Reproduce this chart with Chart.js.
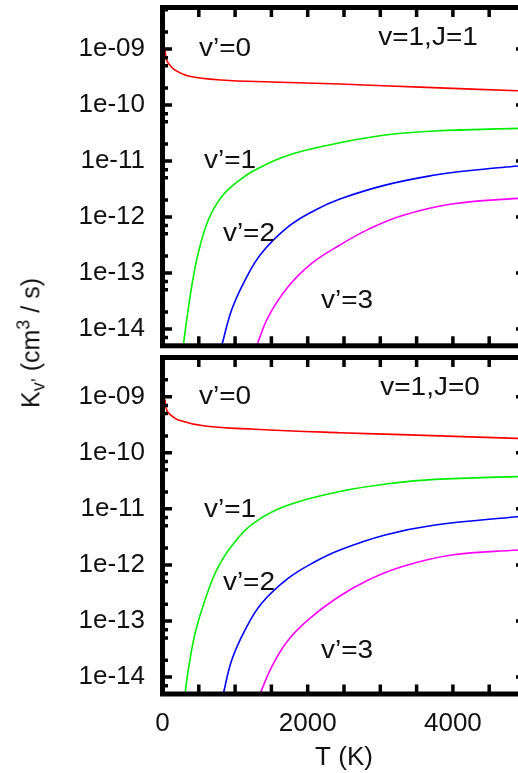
<!DOCTYPE html>
<html>
<head>
<meta charset="utf-8">
<script src="https://cdn.jsdelivr.net/npm/chart.js@4/dist/chart.umd.min.js"></script>
<style>
html,body{margin:0;padding:0;overflow:hidden;background:#fff;width:518px;height:773px;}
#wrap{position:relative;width:518px;height:773px;overflow:hidden;}
canvas{position:absolute;left:0;}
#c1{top:0;}
#c2{top:350px;}
#ytitle{position:absolute;left:31px;top:343px;font-family:'Liberation Sans',Arial,sans-serif;font-size:25px;color:#111;white-space:nowrap;transform:translate(-50%,-50%) rotate(-90deg);line-height:1;}
#ytitle sub{font-size:0.72em;vertical-align:-0.3em;}
#ytitle sup{font-size:0.72em;vertical-align:0.55em;}
</style>
</head>
<body>
<div id="wrap">
<canvas id="c1" width="540" height="352"></canvas>
<canvas id="c2" width="540" height="423"></canvas>
<div id="ytitle">K<sub>v’</sub> (cm<sup>3</sup> / s)</div>
</div>
<script>
// ---------- tick labels / categories ----------
const xTickValues = [0, 2000, 4000];
const xTickLabels = ['0', '2000', '4000'];
const yTickValues = [1e-14, 1e-13, 1e-12, 1e-11, 1e-10, 1e-9];
const yTickLabels = ['1e-14', '1e-13', '1e-12', '1e-11', '1e-10', '1e-09'];
const xTitle = 'T (K)';
const seriesLabels = ['v’=0', 'v’=1', 'v’=2', 'v’=3'];
const seriesColors = ['#ff0000', '#00ee00', '#0000ff', '#ff00ff'];
const panelTitles = ['v=1,J=1', 'v=1,J=0'];

// ---------- panel 1 (v=1, J=1) ----------
const p1_v0_T = [34, 58, 103, 172, 355, 815, 1504, 2444, 3639, 4892, 5000];
const p1_v0_K = [9.8e-10, 6.3e-10, 5.1e-10, 4.2e-10, 3.3e-10, 2.79e-10, 2.57e-10, 2.36e-10, 2.06e-10, 1.79e-10, 1.77e-10];
const p1_v1_T = [286, 333, 402, 493, 631, 815, 1067, 1274, 1733, 2444, 3067, 3754, 4892, 5000];
const p1_v1_K = [5e-15, 1.44e-14, 5.7e-14, 2.27e-13, 8.8e-13, 2.3e-12, 4.6e-12, 6.9e-12, 1.27e-11, 2.11e-11, 2.9e-11, 3.42e-11, 3.82e-11, 3.84e-11];
const p1_v2_T = [815, 953, 1136, 1366, 1733, 2100, 2444, 3067, 3754, 4208, 4892, 5000];
const p1_v2_K = [5e-15, 2.2e-14, 7.4e-14, 2.26e-13, 6.7e-13, 1.32e-12, 2.09e-12, 3.7e-12, 5.6e-12, 6.7e-12, 8.1e-12, 8.3e-12];
const p1_v3_T = [1297, 1457, 1733, 2055, 2444, 2835, 3295, 3983, 4892, 5000];
const p1_v3_K = [5e-15, 1.65e-14, 5.7e-14, 1.48e-13, 3.16e-13, 6.0e-13, 1.05e-12, 1.7e-12, 2.15e-12, 2.17e-12];
// label anchor points (data coords)
const p1_labelT = [861, 930, 1191, 2541, 3657];
const p1_labelK = [1.0e-9, 1.0e-11, 4.95e-13, 3.16e-14, 1.57e-9];

// ---------- panel 2 (v=1, J=0) ----------
const p2_v0_T = [34, 58, 110, 218, 585, 1274, 2444, 3179, 4879, 5000];
const p2_v0_K = [9.0e-10, 5.8e-10, 4.75e-10, 3.85e-10, 3.0e-10, 2.63e-10, 2.28e-10, 2.13e-10, 1.81e-10, 1.79e-10];
const p2_v1_T = [310, 355, 448, 585, 769, 999, 1290, 1733, 2444, 3179, 3754, 4879, 5000];
const p2_v1_K = [5e-15, 1.34e-14, 6.0e-14, 2.37e-13, 9.3e-13, 2.6e-12, 6.0e-12, 1.17e-11, 2.04e-11, 2.88e-11, 3.35e-11, 3.76e-11, 3.78e-11];
const p2_v2_T = [837, 953, 1136, 1366, 1733, 2100, 2444, 3067, 3754, 4879, 5000];
const p2_v2_K = [5e-15, 2.0e-14, 6.9e-14, 2.07e-13, 5.8e-13, 1.14e-12, 1.85e-12, 3.42e-12, 5.15e-12, 7.24e-12, 7.4e-12];
const p2_v3_T = [1343, 1504, 1733, 2055, 2444, 2835, 3295, 3983, 4892, 5000];
const p2_v3_K = [5e-15, 1.53e-14, 4.6e-14, 1.19e-13, 2.8e-13, 5.4e-13, 9.3e-13, 1.5e-12, 1.85e-12, 1.88e-12];
const p2_labelT = [861, 930, 1191, 2541, 3685];
const p2_labelK = [1.0e-9, 9.5e-12, 4.8e-13, 2.95e-14, 1.43e-9];

// ---------- helpers ----------
const FONT = "'Liberation Sans', Arial, sans-serif";
function zip(T, K) { return T.map((t, i) => ({ x: t, y: K[i] })); }
function makeSets(list) {
  return list.map((pair, i) => ({
    label: seriesLabels[i],
    data: zip(pair[0], pair[1]),
    borderColor: seriesColors[i],
    borderWidth: 1.6,
    pointRadius: 0,
    fill: false,
    tension: 0.4
  }));
}

const framePlugin = {
  id: 'frame',
  afterDatasetsDraw(chart, args, opts) {
    const { ctx, chartArea: a } = chart;
    const x = chart.scales.x, y = chart.scales.y;
    ctx.save();
    ctx.strokeStyle = '#000';
    ctx.lineWidth = 5;
    ctx.strokeRect(a.left, a.top, a.right - a.left, a.bottom - a.top);
    ctx.lineWidth = 3.5;
    ctx.beginPath();
    for (let t = 500; t < 5000; t += 500) {
      const px = x.getPixelForValue(t);
      ctx.moveTo(px, a.top); ctx.lineTo(px, a.top + 9.5);
      ctx.moveTo(px, a.bottom); ctx.lineTo(px, a.bottom - 9.5);
    }
    for (let d = -15; d <= -9; d++) {
      for (const m of [1, 2, 5, 7]) {
        const v = m * Math.pow(10, d);
        if (v <= y.min || v >= y.max) continue;
        const py = y.getPixelForValue(v);
        const len = m === 1 ? 9.5 : 5.5;
        ctx.moveTo(a.left, py); ctx.lineTo(a.left + len, py);
        ctx.moveTo(a.right, py); ctx.lineTo(a.right - len, py);
      }
    }
    ctx.stroke();
    // text labels
    ctx.fillStyle = '#111';
    ctx.font = '25px ' + FONT;
    ctx.textAlign = 'center';
    ctx.textBaseline = 'middle';
    const texts = opts.texts || [];
    texts.forEach(tx => {
      const px = x.getPixelForValue(tx.t);
      const py = y.getPixelForValue(tx.k);
      ctx.save();
      ctx.translate(px, py);
      ctx.scale(1.12, 1);
      ctx.fillText(tx.s, 0, 0);
      ctx.restore();
    });
    ctx.restore();
  }
};

function labelTexts(T, K, title) {
  const s = seriesLabels.concat([title]);
  return s.map((str, i) => ({ s: str, t: T[i], k: K[i] }));
}

function yScale(max) {
  return {
    type: 'logarithmic', min: 5e-15, max: max,
    grid: { display: false, drawTicks: false }, border: { display: false },
    afterFit: s => { s.width = 162.5; s.paddingTop = 0; s.paddingBottom = 0; },
    afterBuildTicks: s => { s.ticks = yTickValues.map(v => ({ value: v })); },
    ticks: {
      font: { family: FONT, size: 26 }, color: '#111', padding: 17.5, autoSkip: false,
      callback: (v, i) => yTickLabels[i]
    }
  };
}

new Chart(document.getElementById('c1'), {
  type: 'line',
  data: { datasets: makeSets([[p1_v0_T, p1_v0_K], [p1_v1_T, p1_v1_K], [p1_v2_T, p1_v2_K], [p1_v3_T, p1_v3_K]]) },
  options: {
    responsive: false, animation: false, devicePixelRatio: 1,
    layout: { padding: { left: 0, top: 7.5, right: 14.5, bottom: 6.2 } },
    plugins: { legend: { display: false }, tooltip: { enabled: false },
      frame: { texts: labelTexts(p1_labelT, p1_labelK, panelTitles[0]) } },
    scales: {
      x: { type: 'linear', min: 0, max: 5000, display: false },
      y: yScale(5.5e-9)
    }
  },
  plugins: [framePlugin]
});

new Chart(document.getElementById('c2'), {
  type: 'line',
  data: { datasets: makeSets([[p2_v0_T, p2_v0_K], [p2_v1_T, p2_v1_K], [p2_v2_T, p2_v2_K], [p2_v3_T, p2_v3_K]]) },
  options: {
    responsive: false, animation: false, devicePixelRatio: 1,
    layout: { padding: { left: 0, top: 7.5, right: 14.5, bottom: 0 } },
    plugins: { legend: { display: false }, tooltip: { enabled: false },
      frame: { texts: labelTexts(p2_labelT, p2_labelK, panelTitles[1]) } },
    scales: {
      x: {
        type: 'linear', min: 0, max: 5000,
        grid: { display: false, drawTicks: false }, border: { display: false },
        afterFit: s => { s.height = 79; s.paddingLeft = 0; s.paddingRight = 0; },
        afterBuildTicks: s => { s.ticks = xTickValues.map(v => ({ value: v })); },
        ticks: { font: { family: FONT, size: 26 }, color: '#111', padding: 14, autoSkip: false, maxRotation: 0,
          callback: (v, i) => xTickLabels[i] },
        title: { display: true, text: xTitle, font: { family: FONT, size: 26 }, color: '#111', padding: { top: 0, bottom: 0 } }
      },
      y: yScale(5e-9)
    }
  },
  plugins: [framePlugin]
});
</script>
</body>
</html>
